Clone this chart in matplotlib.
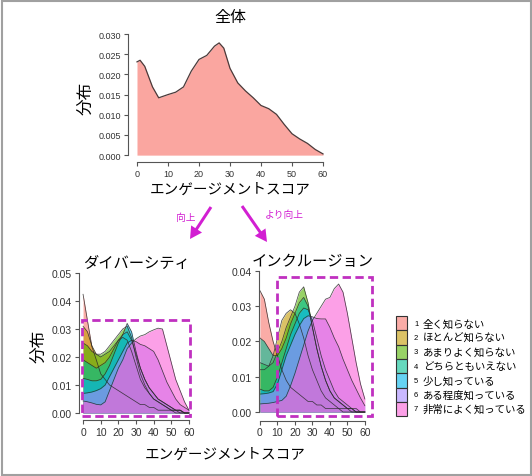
import numpy as np
import matplotlib
matplotlib.use("Agg")
import matplotlib.pyplot as plt
from matplotlib.patches import Rectangle, FancyArrow

plt.rcParams['font.family'] = ['Liberation Sans', 'Noto Sans CJK JP', 'DejaVu Sans']

# ---- data ----
top_x = [0, 1, 2.5, 5, 7, 10, 12.5, 15, 17.5, 20, 22.5, 25, 26.5, 28, 30, 32.5,
         35, 37.5, 40, 42.5, 45, 47.5, 50, 52.5, 55, 57.5, 60]
top_y = [0.0231, 0.0235, 0.0220, 0.0169, 0.0142, 0.0150, 0.0156, 0.0169, 0.0208,
         0.0237, 0.0247, 0.0270, 0.0278, 0.0265, 0.0215, 0.0179, 0.0159, 0.0142,
         0.0123, 0.0115, 0.0101, 0.0076, 0.0053, 0.0040, 0.0029, 0.0014, 0.0003]

grid_x = np.arange(0, 60.1, 2.5)

div_1 = [0.0424, 0.033, 0.0237, 0.019, 0.014, 0.012, 0.010, 0.009, 0.008, 0.007, 0.006, 0.005, 0.004,
         0.003, 0.003, 0.002, 0.002, 0.001, 0.001, 0.001, 0.001, 0.0, 0.0, 0.0, 0.0]
div_2 = [0.031, 0.029, 0.024, 0.021, 0.020, 0.021, 0.022, 0.024, 0.026, 0.027, 0.026, 0.022, 0.017,
         0.012, 0.009, 0.007, 0.005, 0.004, 0.003, 0.002, 0.001, 0.001, 0.001, 0.0, 0.0]
div_3 = [0.025, 0.024, 0.022, 0.021, 0.021, 0.022, 0.024, 0.026, 0.028, 0.030, 0.031, 0.027, 0.020,
         0.014, 0.010, 0.007, 0.005, 0.004, 0.003, 0.002, 0.001, 0.001, 0.0, 0.0, 0.0]
div_4 = [0.019, 0.018, 0.017, 0.016, 0.017, 0.018, 0.020, 0.023, 0.026, 0.028, 0.029, 0.026, 0.021,
         0.016, 0.012, 0.009, 0.007, 0.005, 0.004, 0.003, 0.002, 0.001, 0.001, 0.0, 0.0]
div_5 = [0.0124, 0.012, 0.0115, 0.0115, 0.012, 0.014, 0.017, 0.021, 0.025, 0.028, 0.032, 0.029, 0.022,
         0.016, 0.012, 0.009, 0.007, 0.005, 0.004, 0.003, 0.002, 0.001, 0.001, 0.0, 0.0]
div_6 = [0.0070, 0.0072, 0.0075, 0.008, 0.0087, 0.010, 0.013, 0.016, 0.019, 0.022, 0.025, 0.026, 0.0255,
         0.0245, 0.024, 0.023, 0.022, 0.019, 0.015, 0.011, 0.008, 0.005, 0.003, 0.002, 0.001]
div_7 = [0.0043, 0.0040, 0.0036, 0.0031, 0.0029, 0.004, 0.008, 0.012, 0.016, 0.019, 0.023, 0.025, 0.0265,
         0.0275, 0.028, 0.029, 0.0297, 0.0303, 0.030, 0.024, 0.018, 0.012, 0.008, 0.004, 0.001]

inc_1 = [0.0344, 0.032, 0.0254, 0.020, 0.016, 0.012, 0.009, 0.007, 0.006, 0.005, 0.004, 0.003, 0.003,
         0.002, 0.002, 0.001, 0.001, 0.001, 0.001, 0.0, 0.0, 0.0, 0.0, 0.0, 0.0]
inc_2 = [0.012, 0.012, 0.013, 0.016, 0.021, 0.026, 0.028, 0.029, 0.028, 0.025, 0.021, 0.016, 0.012,
         0.009, 0.006, 0.004, 0.003, 0.002, 0.001, 0.001, 0.001, 0.0, 0.0, 0.0, 0.0]
inc_3 = [0.014, 0.0135, 0.013, 0.014, 0.017, 0.020, 0.024, 0.027, 0.030, 0.034, 0.0355, 0.031, 0.024,
         0.018, 0.013, 0.009, 0.006, 0.004, 0.003, 0.002, 0.001, 0.001, 0.0, 0.0, 0.0]
inc_4 = [0.021, 0.020, 0.018, 0.016, 0.016, 0.018, 0.021, 0.025, 0.028, 0.031, 0.0325, 0.030, 0.024,
         0.018, 0.013, 0.009, 0.006, 0.004, 0.003, 0.002, 0.001, 0.001, 0.0, 0.0, 0.0]
inc_5 = [0.0065, 0.006, 0.006, 0.007, 0.010, 0.014, 0.018, 0.022, 0.025, 0.028, 0.0295, 0.029, 0.026,
         0.021, 0.016, 0.012, 0.009, 0.006, 0.004, 0.003, 0.002, 0.001, 0.001, 0.0, 0.0]
inc_6 = [0.0051, 0.0052, 0.0054, 0.0058, 0.008, 0.012, 0.016, 0.019, 0.022, 0.0245, 0.0265, 0.0273, 0.027,
         0.0265, 0.0264, 0.0264, 0.024, 0.021, 0.0185, 0.015, 0.012, 0.009, 0.0065, 0.004, 0.0018]
inc_7 = [0.0023, 0.0024, 0.0025, 0.0027, 0.003, 0.0033, 0.0045, 0.0075, 0.011, 0.015, 0.019, 0.023, 0.026,
         0.028, 0.030, 0.032, 0.0325, 0.035, 0.0363, 0.034, 0.028, 0.021, 0.014, 0.008, 0.0037]

div_series = [div_1, div_2, div_3, div_4, div_5, div_6, div_7]
inc_series = [inc_1, inc_2, inc_3, inc_4, inc_5, inc_6, inc_7]

labels = ["全く知らない", "ほとんど知らない", "あまりよく知らない", "どちらともいえない",
          "少し知っている", "ある程度知っている", "非常によく知っている"]
colors = ["#F8766D", "#C49A00", "#53B400", "#00C094", "#00B6EB", "#A58AFF", "#FB61D7"]

W, H = 532, 477
fig = plt.figure(figsize=(W / 100, H / 100), dpi=100)

def px_axes(left, top, right, bottom):
    return fig.add_axes([left / W, 1 - bottom / H, (right - left) / W, (bottom - top) / H])

def style(ax, xb, yb, fs):
    for s in ["top", "right"]:
        ax.spines[s].set_visible(False)
    ax.spines["left"].set_bounds(*yb)
    ax.spines["bottom"].set_bounds(*xb)
    for s in ["left", "bottom"]:
        ax.spines[s].set_color("#555555")
        ax.spines[s].set_linewidth(0.8)
    ax.tick_params(direction="out", length=3, width=0.8, color="#555555",
                   labelsize=fs, labelcolor="#333333", pad=2)
    ax.set_facecolor("none")

# ---- top: overall ----
ax0 = px_axes(128, 33, 332, 163)
ax0.fill_between(top_x, top_y, color="#F8766D", alpha=0.65, lw=0)
ax0.plot(top_x, top_y, color="#4a3a3a", lw=0.9)
ax0.set_xlim(-2.9, 62.9)
ax0.set_ylim(-0.0017, 0.0305)
ax0.set_xticks(range(0, 61, 10))
ax0.set_yticks(np.arange(0, 0.0301, 0.005))
ax0.yaxis.set_major_formatter(matplotlib.ticker.FormatStrFormatter("%.3f"))
style(ax0, (0, 60), (0, 0.03), 6.5)
ax0.set_title("全体", fontsize=11.5, pad=8)
ax0.set_ylabel("分布", fontsize=12, labelpad=4)
ax0.set_xlabel("エンゲージメントスコア", fontsize=10.5, labelpad=3)

def density_panel(ax, series):
    for ys, c in zip(series, colors):
        ax.fill_between(grid_x, ys, color=c, alpha=0.6, lw=0)
        ax.plot(grid_x, ys, color="#2a2a2a", lw=0.55, alpha=0.85)

# ---- bottom left: diversity ----
ax1 = px_axes(79, 272.6, 193, 421)
density_panel(ax1, div_series)
ax1.set_xlim(-2.3, 62.3)
ax1.set_ylim(-0.0025, 0.0505)
ax1.set_xticks(range(0, 61, 10))
ax1.set_yticks(np.arange(0, 0.0501, 0.01))
ax1.yaxis.set_major_formatter(matplotlib.ticker.FormatStrFormatter("%.2f"))
style(ax1, (0, 60), (0, 0.05), 7.5)
ax1.set_title("ダイバーシティ", fontsize=11, pad=3)
ax1.set_ylabel("分布", fontsize=12, labelpad=4)
ax1.add_patch(Rectangle((-0.6, -0.0011), 61.2, 0.0343, fill=False, ec="#C030C0",
                        lw=2, ls=(0, (3, 1.6)), clip_on=False, zorder=5))

# ---- bottom right: inclusion ----
ax2 = px_axes(258.6, 270.2, 366.6, 421.5)
density_panel(ax2, inc_series)
ax2.set_xlim(-0.8, 61)
ax2.set_ylim(-0.0024, 0.0405)
ax2.set_xticks(range(0, 61, 10))
ax2.set_yticks(np.arange(0, 0.0401, 0.01))
ax2.yaxis.set_major_formatter(matplotlib.ticker.FormatStrFormatter("%.2f"))
style(ax2, (0, 60), (0, 0.04), 7.5)
ax2.set_title("インクルージョン", fontsize=11, pad=3)
ax2.add_patch(Rectangle((9.7, -0.0011), 54.3, 0.0394, fill=False, ec="#C030C0",
                        lw=2, ls=(0, (3, 1.6)), clip_on=False, zorder=5))

# ---- overlay: arrows, legend, shared label, border ----
ov = fig.add_axes([0, 0, 1, 1], zorder=10)
ov.set_xlim(0, W)
ov.set_ylim(H, 0)
ov.axis("off")
ov.patch.set_alpha(0)

mag = "#D21FD2"
ov.add_patch(FancyArrow(211, 208, -21, 32, width=3, head_width=13, head_length=12,
                        length_includes_head=True, color=mag, lw=0))
ov.add_patch(FancyArrow(242, 207, 25, 36, width=3, head_width=13, head_length=12,
                        length_includes_head=True, color=mag, lw=0))
ov.text(186, 218, "向上", color=mag, fontsize=7, ha="center", va="center")
ov.text(284, 215, "より向上", color=mag, fontsize=7, ha="center", va="center")

ov.text(225, 455, "エンゲージメントスコア", fontsize=10.5, ha="center", va="center")

row_h = 14.3
for i, (lab, c) in enumerate(zip(labels, colors)):
    y0 = 317 + i * row_h
    ov.add_patch(Rectangle((396, y0), 11, row_h, facecolor=c, alpha=0.6, lw=0))
    ov.add_patch(Rectangle((396, y0), 11, row_h, fill=False, ec="#333333", lw=0.8))
    ov.text(414, y0 + row_h / 2, str(i + 1), fontsize=5.5, va="center", ha="left")
    ov.text(423, y0 + row_h / 2, lab, fontsize=7.5, va="center", ha="left")

ov.add_patch(Rectangle((1.5, 1.5), W - 3, H - 3, fill=False, ec="#A0A0A0", lw=1.5))

fig.savefig("out.png", dpi=100)
